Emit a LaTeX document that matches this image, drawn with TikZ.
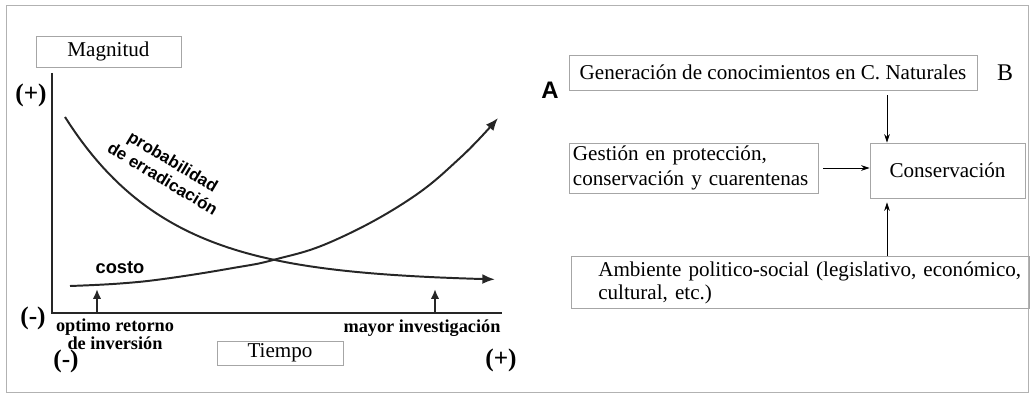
\documentclass[tikz,border=0pt]{standalone}
\usepackage{fontspec}
\setmainfont{Liberation Serif}
\setsansfont{Liberation Sans}
\usetikzlibrary{arrows.meta, positioning}

\begin{document}
\begin{tikzpicture}[x=0.025cm, y=-0.025cm]
\useasboundingbox (0,0) rectangle (1033,393);
\draw[gray!60, line width=0.6pt] (6,5) rectangle (1028,392);

\begin{scope}[every node/.style={shape=rectangle,
    draw=gray!70, line width=0.5pt, align=center, inner sep=0pt,
    font=\fontsize{15}{18}\selectfont}]
    \node[minimum width=3.625cm, minimum height=0.775cm] (mag) at (108.5,51.5) {Magnitud};
    \node[minimum width=3.15cm, minimum height=0.6cm] (tiem) at (280,353) {Tiempo};
    \node[minimum width=10.2cm, minimum height=0.875cm] (gen) at (773,72.5) {Generación de conocimientos en C. Naturales};
    \node[text width=6.025cm, inner xsep=0.1cm, align=left, minimum height=1.25cm] (gest) at (693.5,168) {Gestión en protección,\\conservación y cuarentenas};
    \node[minimum width=3.875cm, minimum height=1.375cm] (cons) at (947.5,170.5) {Conservación};
    \node[minimum width=11.45cm, minimum height=1.3cm] (amb) at (800,282) {};
\end{scope}

\begin{scope}[every node/.style={inner sep=0pt},
    lab/.style={font=\fontsize{13}{9.5}\selectfont\bfseries, align=center},
    sig/.style={font=\fontsize{18}{18}\selectfont\bfseries},
    curv/.style={font=\fontsize{12}{14}\selectfont\sffamily\bfseries, align=center}]
    \node[font=\fontsize{15}{16.5}\selectfont, anchor=west, text width=11cm, align=left] (ambtxt) at (598,283) {Ambiente politico-social (legislativo, económico,\\cultural, etc.)};
    \node[sig] (yp) at (31,95) {(+)};
    \node[sig] (ym) at (33,318) {(-)};
    \node[sig] (xm) at (66,361) {(-)};
    \node[sig] (xp) at (501,360) {(+)};
    \node[curv, rotate=-31] (prob) at (168,170) {probabilidad\\de erradicación};
    \node[curv, font=\fontsize{13}{13}\selectfont\sffamily\bfseries] (costo) at (120,268) {costo};
    \node[lab] (opt) at (115,334) {optimo retorno\\de inversión};
    \node[lab] (may) at (422,328) {mayor investigación};
    \node[font=\fontsize{17}{17}\selectfont\sffamily\bfseries] (A) at (550,90) {A};
    \node[font=\fontsize{17}{17}\selectfont] (B) at (1005,73) {B};
\end{scope}

% curvas del grafico
\begin{scope}[curve/.style={line width=1.4pt, black!85},
    tip/.style={-{Latex[length=9pt,width=7pt]}}]
    \coordinate (o) at (52,313);
    \coordinate (t1) at (97,289);
    \coordinate (t2) at (435,289);
    \draw[curve] (52,73) -- (o) -- (502,313);
    \draw[curve, tip] plot[domain=65:495, samples=80] (\x, {282-165*exp(-0.0096*(\x-65))});
    \draw[curve, tip] plot[smooth, tension=0.7] coordinates {(70,286) (120,283.5) (167,278.5) (233,268) (275,259.5) (333,241) (407,201) (460,158) (498,118)};
    \draw[curve, -{Latex[length=7pt,width=6pt]}] (t1 |- o) -- (t1);
    \draw[curve, -{Latex[length=7pt,width=6pt]}] (t2 |- o) -- (t2);
\end{scope}

\begin{scope}[every edge/.style={draw, line width=0.6pt, -{Stealth[length=6pt,width=4pt]}}]
    \coordinate (cx) at (887,0);
    \path ([yshift=-0.125cm]gen.south -| cx) edge (cons.north -| cx);
    \path ([xshift=0.125cm]gest.east) edge (cons.west |- gest.east);
    \path (amb.north -| cx) edge ([yshift=-0.1cm]cons.south -| cx);
\end{scope}
\end{tikzpicture}
\end{document}
